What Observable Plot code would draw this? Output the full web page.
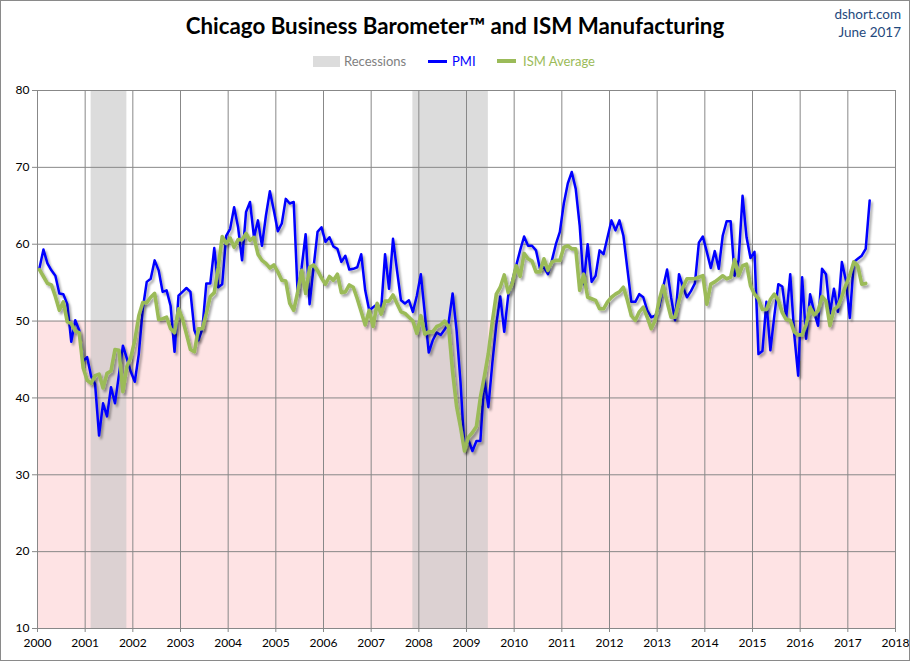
<!DOCTYPE html>
<html>
<head>
<meta charset="utf-8">
<script src="https://cdn.jsdelivr.net/npm/d3@7"></script>
<script src="https://cdn.jsdelivr.net/npm/@observablehq/plot@0.6"></script>
<style>
  html, body { margin: 0; padding: 0; background: #fff; }
  #wrap { position: relative; width: 910px; height: 661px; overflow: hidden; font-family: Lato, "Open Sans", sans-serif; }
  #frame { position: absolute; left: 0; top: 0; width: 910px; height: 661px; box-sizing: border-box; border: 1px solid #8a8a8a; pointer-events: none; }
  #header { position: relative; height: 78px; }
  #title { position: absolute; left: 0; width: 910px; top: 12px; text-align: center; font-weight: bold; font-size: 22.3px; color: #000; }
  #src { position: absolute; right: 9px; top: 5px; text-align: right; font-size: 13.5px; line-height: 18px; color: #1F497D; }
  .lg { position: absolute; top: 53px; font-size: 13px; line-height: 16px; }
  svg { display: block; }
</style>
</head>
<body>
<div id="wrap">
  <div id="header">
    <div id="title">Chicago Business Barometer™ and ISM Manufacturing</div>
    <div id="src">dshort.com<br>June 2017</div>
    <div class="lg" style="left:313px;top:56px;width:27px;height:11px;background:#dcdcdc;"></div>
    <div class="lg" style="left:344px;color:#7f7f7f;">Recessions</div>
    <div class="lg" style="left:428px;top:60px;width:19px;height:3px;background:#0000ff;"></div>
    <div class="lg" style="left:452px;color:#0000ff;">PMI</div>
    <div class="lg" style="left:497px;top:59px;width:19px;height:4px;background:#9bbb59;"></div>
    <div class="lg" style="left:523px;color:#9bbb59;">ISM Average</div>
  </div>
  <div id="chart"></div>
  <div id="frame"></div>
</div>
<script>
const startYear = 2000;
// Chicago PMI, monthly from Jan 2000 to Jun 2017
const pmi = [
  56.9, 59.3, 57.5, 56.6, 55.9, 53.6, 53.5, 52.2, 47.3, 50.1, 48.8, 44.8,
  45.3, 42.8, 41.8, 35.1, 39.3, 37.6, 41.4, 39.3, 43.0, 46.8, 45.1, 43.4,
  42.1, 45.7, 51.6, 55.1, 55.5, 57.9, 56.6, 53.8, 54.0, 52.0, 46.0, 53.3,
  53.8, 54.3, 53.8, 48.8, 47.5, 49.0, 54.9, 54.9, 59.5, 54.4, 54.8, 61.1,
  62.0, 64.8, 62.2, 57.9, 64.2, 65.5, 60.9, 63.1, 59.8, 63.7, 66.9, 64.4,
  61.7, 62.7, 65.9, 65.3, 65.5, 53.5, 57.0, 61.3, 52.2, 57.0, 61.6, 62.2,
  60.3, 60.9, 59.7, 59.4, 57.7, 58.5, 56.7, 56.8, 57.0, 58.7, 54.0, 51.4,
  51.8, 52.2, 51.4, 58.7, 54.2, 60.7, 56.6, 52.7, 52.3, 52.7, 51.2, 53.3,
  56.1, 51.0, 45.9, 47.5, 48.5, 48.2, 48.9, 49.8, 53.6, 48.8, 42.0, 33.2,
  34.5, 33.1, 34.4, 34.4, 42.5, 38.8, 44.5, 49.5, 53.2, 48.6, 53.3, 55.2,
  57.2, 59.2, 61.0, 59.8, 59.8, 59.2, 56.8, 57.0, 56.1, 57.9, 60.0, 61.6,
  65.3, 67.9, 69.4, 67.2, 62.4, 54.8, 60.0, 55.1, 55.9, 59.2, 58.7, 60.9,
  63.1, 61.8, 63.1, 61.1, 56.8, 52.5, 52.5, 53.5, 53.1, 51.4, 50.5, 50.7,
  51.8, 54.4, 56.7, 53.1, 50.1, 56.1, 54.4, 53.1, 53.9, 54.9, 60.2, 61.0,
  59.0, 56.9, 59.1, 56.8, 61.1, 63.0, 63.0, 55.9, 57.9, 66.3, 60.9, 58.2,
  59.0, 45.7, 46.1, 52.5, 46.2, 50.7, 54.8, 54.5, 50.5, 56.1, 48.3, 42.9,
  55.7, 47.7, 53.5, 51.2, 49.4, 56.8, 56.1, 51.0, 54.2, 51.2, 57.7, 55.3,
  50.4, 57.7, 58.1, 58.5, 59.4, 65.7
];
// ISM Manufacturing, monthly from Jan 2000 to May 2017
const ism = [
  56.7, 55.8, 54.9, 54.7, 53.2, 51.4, 52.5, 49.9, 49.7, 48.7, 48.5, 43.9,
  42.3, 41.9, 42.9, 43.1, 41.3, 43.2, 43.5, 46.3, 46.2, 40.8, 44.1, 45.3,
  47.5, 50.7, 52.4, 52.4, 53.1, 53.6, 50.2, 50.3, 50.5, 49.0, 48.5, 51.6,
  50.3, 48.3, 46.3, 46.0, 49.0, 49.0, 51.0, 53.2, 53.7, 57.0, 61.0, 60.1,
  60.8, 59.6, 60.6, 60.6, 61.4, 60.5, 60.9, 58.7, 57.9, 57.5, 56.9, 57.3,
  56.4, 55.3, 55.2, 52.3, 51.4, 53.8, 56.6, 53.6, 57.0, 57.3, 56.6, 55.6,
  54.8, 55.8, 55.3, 56.1, 53.7, 53.8, 54.7, 54.4, 52.9, 51.2, 49.5, 51.4,
  49.3, 52.3, 50.9, 52.6, 52.6, 53.4, 52.3, 51.2, 51.0, 50.5, 50.0, 48.4,
  50.7, 48.3, 48.6, 48.6, 49.3, 49.5, 50.0, 49.2, 43.4, 38.9, 36.2, 33.1,
  34.9, 35.5, 36.3, 40.1, 42.8, 45.8, 49.9, 53.5, 54.4, 56.0, 53.7, 54.9,
  57.2, 55.8, 58.8, 58.1, 57.8, 56.4, 56.4, 58.1, 56.6, 57.7, 57.9, 57.9,
  59.6, 59.8, 59.4, 59.4, 54.0, 56.1, 53.1, 52.9, 52.7, 51.6, 51.6, 52.5,
  53.1, 53.5, 53.8, 54.4, 52.7, 50.7, 50.1, 51.2, 51.8, 50.5, 49.0, 50.1,
  52.7, 54.6, 52.5, 50.5, 50.5, 52.7, 54.4, 55.5, 55.5, 55.5, 55.7, 55.9,
  52.2, 54.8, 55.1, 55.5, 55.9, 55.5, 55.7, 58.0, 55.9, 57.2, 57.4, 54.6,
  53.5, 52.9, 51.5, 51.5, 52.8, 53.5, 52.7, 51.1, 50.2, 50.1, 48.6, 48.2,
  48.2, 49.5, 51.8, 50.8, 51.3, 53.2, 52.6, 49.4, 51.5, 51.9, 53.2, 54.7,
  56.0, 57.7, 57.2, 54.8, 54.9
];
const recessions = [
  {from: "2001-02", to: "2001-11"},
  {from: "2007-11", to: "2009-06"}
];
const yearTicks = d3.range(2000, 2019);
const valueTicks = d3.range(10, 81, 10);
const contractionLine = 50;

const monthPos = i => startYear + (i + 0.5) / 12;
const monthIndex = s => { const [y, m] = s.split("-").map(Number); return (y - startYear) * 12 + (m - 1); };

const pmiData = pmi.map((v, i) => ({x: monthPos(i), v}));
const ismData = ism.map((v, i) => ({x: monthPos(i), v}));
const recData = recessions.map(r => ({x1: monthPos(monthIndex(r.from)), x2: monthPos(monthIndex(r.to))}));
const xMin = yearTicks[0], xMax = yearTicks[yearTicks.length - 1];
const yMin = valueTicks[0], yMax = valueTicks[valueTicks.length - 1];
const band = [{x1: xMin, x2: xMax, y1: yMin, y2: contractionLine}];

const chart = Plot.plot({
  width: 910,
  height: 583,
  marginTop: 12,
  marginBottom: 33,
  marginLeft: 37,
  marginRight: 15,
  style: {fontFamily: "Lato, 'Open Sans', sans-serif", fontSize: "12px", color: "#000", background: "transparent", overflow: "visible"},
  x: {domain: [xMin, xMax], ticks: yearTicks, tickFormat: d => String(d), tickSize: 4, tickPadding: 6, label: null},
  y: {domain: [yMin, yMax], ticks: valueTicks, tickSize: 5, tickPadding: 3, label: null},
  marks: [
    Plot.rect(band, {x1: "x1", x2: "x2", y1: "y1", y2: "y2", fill: "#fee3e4"}),
    Plot.rect(recData, {x1: "x1", x2: "x2", y1: () => yMin, y2: () => yMax, fill: "#c6c6c6", fillOpacity: 0.62}),
    Plot.ruleX(yearTicks, {stroke: "#888", strokeWidth: 1}),
    Plot.ruleY(valueTicks, {stroke: "#888", strokeWidth: 1}),
    Plot.line(pmiData, {x: "x", y: "v", stroke: "#0000ff", strokeWidth: 2.5, strokeLinejoin: "round", strokeLinecap: "round"}),
    Plot.line(ismData, {x: "x", y: "v", stroke: "#9bbb59", strokeWidth: 3.6, strokeLinejoin: "round", strokeLinecap: "round"})
  ]
});

const svg = d3.select(chart);
const defs = svg.insert("defs", ":first-child");
const f = defs.append("filter").attr("id", "shadow").attr("x", "-5%").attr("y", "-5%").attr("width", "110%").attr("height", "110%");
f.append("feDropShadow").attr("dx", 2).attr("dy", 2.5).attr("stdDeviation", 1.3).attr("flood-color", "#000").attr("flood-opacity", 0.35);
svg.selectAll('g[aria-label="line"]').attr("filter", "url(#shadow)");
svg.selectAll('g[aria-label="x-axis tick"] path, g[aria-label="y-axis tick"] path').attr("stroke", "#888");
document.getElementById("chart").appendChild(chart);
</script>
</body>
</html>
